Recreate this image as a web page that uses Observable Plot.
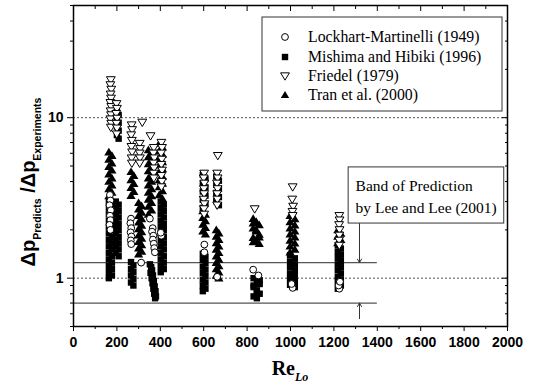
<!DOCTYPE html>
<html>
<head>
<meta charset="utf-8">
<script src="https://cdn.jsdelivr.net/npm/d3@7"></script>
<script src="https://cdn.jsdelivr.net/npm/@observablehq/plot@0.6"></script>
<style>
  html, body { margin: 0; padding: 0; background: #fff; }
  #chart { width: 536px; height: 390px; }
</style>
</head>
<body>
<div id="chart"></div>
<script>
// Pressure-drop ratio Δp_Predicts / Δp_Experiments against Re_Lo, four correlations.
const seriesNames = [
  "Lockhart-Martinelli (1949)",
  "Mishima and Hibiki (1996)",
  "Friedel (1979)",
  "Tran et al. (2000)"
];

// Open circles: [Re_Lo, ratio]
const lockhart = [
  [168,3.3],[170,3.05],[166,2.85],[172,2.65],[168,2.45],[170,2.3],[166,2.15],[170,2.0],
  [265,2.35],[262,2.2],[266,2.05],[263,1.93],[267,1.82],[264,1.72],[266,1.63],
  [312,1.25],
  [352,2.35],[365,2.05],[362,1.95],[368,1.84],[366,1.74],[370,1.64],[372,1.54],[375,1.45],[405,1.84],[402,1.92],
  [603,1.62],[603,1.45],
  [662,1.02],
  [828,1.13],[852,1.04],
  [1010,0.87],[1005,0.92],
  [1225,0.86],[1222,0.9],[1228,0.95]
];

// Open down-triangles: [Re_Lo, ratio]
const friedel = [
  [172,17.2],[170,16],[174,15],[171,14],[173,13.2],[170,12.4],[174,11.7],[171,11],[173,10.4],[170,9.8],[174,9.2],[172,8.7],
  [198,12.2],[200,11.4],[197,10.6],[201,9.9],[198,9.2],[200,8.6],[199,7.9],
  [268,9.0],[270,8.4],[266,7.8],[269,7.2],[267,6.6],[270,6.1],[268,5.6],[269,5.2],
  [305,6.9],[307,6.4],[305,6.0],[306,5.6],[305,5.2],
  [317,9.35],[355,7.7],
  [370,6.5],[368,6.0],[372,5.6],[369,5.2],[371,4.85],[369,4.5],[370,4.2],
  [405,7.0],[408,6.5],[404,6.0],[407,5.5],[405,5.1],[408,4.7],[405,4.35],[407,4.0],[405,3.7],
  [602,4.5],[600,4.2],[603,3.9],[601,3.6],[602,3.35],[600,3.1],[603,2.9],[601,2.7],[602,2.5],
  [665,5.8],[662,4.5],[664,4.2],[661,3.9],[664,3.6],[662,3.35],[663,3.1],[662,2.85],
  [835,2.7],
  [1010,3.7],[1008,3.1],[1012,2.8],[1009,2.6],[1010,2.45],
  [1225,2.45],[1226,2.3],[1224,2.15],[1226,2.0],[1225,1.85],[1224,1.72],[1225,1.6]
];

// Filled squares, one entry per measured column: [[Re_Lo positions], [ratios]]
const mishimaColumns = [
  [[163,177],[3.0,2.87,2.74,2.62,2.5,2.39,2.28,2.18,2.08,1.99,1.9,1.81,1.73,1.65,1.58,1.51,1.44,1.37,1.31,1.25,1.19,1.14,1.09,1.04,1.0]],
  [[195,208],[3.0,2.87,2.74,2.62,2.5,2.39,2.28,2.18,2.08,1.99,1.9,1.81,1.73,1.65,1.58,1.51,1.44,1.37]],
  [[200,208],[11,10.4,9.8,9.3,8.8,8.3,7.8,7.4]],
  [[265,276],[1.26,1.2,1.14,1.09,1.04,0.99,0.94,0.9]],
  [[402,416],[3.0,2.87,2.74,2.62,2.5,2.39,2.28,2.18,2.08,1.99,1.9,1.81,1.73,1.65,1.58,1.51,1.44,1.37,1.31,1.25,1.19,1.14,1.09]],
  [[352,358,362,355,366,360,370,364,374,368,378,372,380,376],[1.22,1.17,1.12,1.08,1.04,1.0,0.96,0.93,0.89,0.86,0.83,0.8,0.77,0.75]],
  [[596,608],[4.4,4.15,3.9,3.68,3.47,3.27,3.08,2.9,2.74]],
  [[596,608],[1.42,1.36,1.3,1.24,1.18,1.13,1.08,1.03,0.98,0.94,0.9,0.86,0.83]],
  [[658,670],[4.3,4.05,3.82,3.6,3.4,3.2,3.02,2.85]],
  [[830,845,858],[1.0,0.96,0.92,0.88,0.84,0.8,0.77,0.75,0.97,0.9,0.82]],
  [[998,1020],[1.39,1.33,1.27,1.22,1.17,1.12,1.07,1.03,0.99,0.95,0.91,0.88]],
  [[1218,1232],[1.6,1.53,1.46,1.4,1.34,1.28,1.22,1.17,1.12,1.07,1.02,0.98,0.94,0.9,0.86]]
];

// Filled up-triangles, same layout
const tranColumns = [
  [[163,177],[6.1,5.8,5.5,5.2,4.95,4.7,4.45,4.2,4.0,3.8,3.6,3.42,3.25,3.1]],
  [[265,278],[4.6,4.35,4.1,3.88,3.66,3.46,3.27]],
  [[300,314],[2.95,2.82,2.69,2.57,2.45,2.34,2.23,2.13,2.03,1.94,1.85,1.77,1.69,1.61,1.54,1.47,1.41]],
  [[345,360],[6.3,6.0,5.7,5.4,5.15,4.9,4.65,4.4,4.2,4.0,3.8,3.6,3.42,3.25,3.1,2.95,2.8,2.65,2.5]],
  [[395,410],[6.9,6.55,6.2,5.9,5.6,5.3,5.05,4.8,4.55,4.3,4.1,3.9,3.7,3.5,3.3,3.13]],
  [[596,608],[2.62,2.5,2.38,2.27,2.16,2.06,1.96,1.88]],
  [[658,670],[2.0,1.91,1.82,1.74,1.66,1.58,1.51,1.44,1.37,1.31,1.25,1.19,1.14,1.09,1.04,1.0]],
  [[828,842,856],[2.35,2.25,2.15,2.05,1.96,1.87,1.79,1.71,1.64,2.2,2.0,1.8,1.68]],
  [[998,1020],[2.45,2.34,2.24,2.14,2.05,1.96,1.88,1.8,1.72,1.65,1.58,1.51,1.45]],
  [[1218,1232],[2.0,1.9,1.82,1.74,1.66]]
];

// Axis ticks
const xMajorTicks = [0,200,400,600,800,1000,1200,1400,1600,1800,2000];
const xMinorTicks = [100,300,500,700,900,1100,1300,1500,1700,1900];
const yMajorTicks = [1, 10];
const yMinorTicks = [0.5,0.6,0.7,0.8,0.9,2,3,4,5,6,7,8,9,20,30,40,50];

// Reference lines and the band annotation
const gridLevels = [1, 10];
const bandLevels = [1.25, 0.7];
const bandRange = [0, 1400];
const bandNoteText = ["Band of Prediction", "by Lee and Lee (2001)"];
const bandNoteBox = {x1: 1268, x2: 1985, y1: 2.19, y2: 4.9};
const bandNoteTextX = 1300;
const bandNoteTextY = [3.77, 2.74];
const bandArrowX = 1318;
const bandArrows = [{from: 2.19, to: 1.25}, {from: 0.56, to: 0.7}];

const pts = a => a.map(([x, y]) => ({x, y}));
const fromColumns = cols => cols.flatMap(([xs, ys]) => ys.map((y, i) => ({x: xs[i % xs.length], y})));

// Marker shapes (size is π·r², as Plot passes it)
const triangleDown = {
  draw(ctx, size) {
    const r = Math.sqrt(size / Math.PI);
    ctx.moveTo(-r, -r * 0.72);
    ctx.lineTo(r, -r * 0.72);
    ctx.lineTo(0, r * 0.95);
    ctx.closePath();
  }
};
const triangleUp = {
  draw(ctx, size) {
    const r = Math.sqrt(size / Math.PI);
    ctx.moveTo(-r, r * 0.72);
    ctx.lineTo(r, r * 0.72);
    ctx.lineTo(0, -r * 0.95);
    ctx.closePath();
  }
};
const squareSym = {
  draw(ctx, size) {
    const r = Math.sqrt(size / Math.PI);
    ctx.rect(-r, -r, 2 * r, 2 * r);
  }
};
const circleSym = {
  draw(ctx, size) {
    const r = Math.sqrt(size / Math.PI);
    ctx.moveTo(r, 0);
    ctx.arc(0, 0, r, 0, 2 * Math.PI);
  }
};

const markerStyles = [
  {symbol: circleSym, r: 3.4, fill: "white", stroke: "black"},
  {symbol: squareSym, r: 3.2, fill: "black", stroke: "none"},
  {symbol: triangleDown, r: 4.4, fill: "white", stroke: "black"},
  {symbol: triangleUp, r: 4.6, fill: "black", stroke: "none"}
];

const tickFont = {fontSize: 14, fontWeight: "bold", fontFamily: "Liberation Sans, Arial, sans-serif"};
const noText = () => "";

const chart = Plot.plot({
  width: 536,
  height: 390,
  marginLeft: 73,
  marginRight: 29,
  marginTop: 5,
  marginBottom: 64,
  style: {background: "white", color: "black", overflow: "visible"},
  x: {domain: [0, 2000]},
  y: {type: "log", domain: [0.5, 50]},
  marks: [
    Plot.ruleY(gridLevels, {stroke: "#555", strokeDasharray: "2,2", strokeWidth: 1}),
    Plot.ruleY(bandLevels, {x1: () => bandRange[0], x2: () => bandRange[1], stroke: "#555", strokeWidth: 1.2}),
    Plot.dot(fromColumns(mishimaColumns), {x: "x", y: "y", ...markerStyles[1]}),
    Plot.dot(fromColumns(tranColumns), {x: "x", y: "y", ...markerStyles[3]}),
    Plot.dot(pts(lockhart), {x: "x", y: "y", ...markerStyles[0], strokeWidth: 1}),
    Plot.dot(pts(friedel), {x: "x", y: "y", ...markerStyles[2], strokeWidth: 1}),
    Plot.rect([bandNoteBox], {x1: "x1", x2: "x2", y1: "y1", y2: "y2", fill: "white", stroke: "#333", strokeWidth: 1}),
    Plot.text(bandNoteText, {
      x: () => bandNoteTextX, y: (d, i) => bandNoteTextY[i], text: d => d,
      textAnchor: "start", lineAnchor: "middle", fontSize: 15.5,
      fontFamily: "Liberation Serif, Times New Roman, serif", fill: "black"
    }),
    Plot.arrow(bandArrows, {
      x1: () => bandArrowX, x2: () => bandArrowX, y1: "from", y2: "to",
      stroke: "#333", strokeWidth: 1, headLength: 6, bend: 0
    }),
    Plot.axisX({ticks: xMajorTicks, tickSize: 5, tickPadding: 6, tickFormat: d => String(d), label: null, ...tickFont}),
    Plot.axisX({ticks: xMinorTicks, tickSize: 3, tickFormat: noText, label: null}),
    Plot.axisX({anchor: "top", ticks: xMajorTicks, tickSize: 5, dy: 5, tickFormat: noText, label: null}),
    Plot.axisX({anchor: "top", ticks: xMinorTicks, tickSize: 3, dy: 3, tickFormat: noText, label: null}),
    Plot.axisY({ticks: yMajorTicks, tickSize: 6, tickPadding: 4, tickFormat: d => String(d), label: null, ...tickFont}),
    Plot.axisY({ticks: yMinorTicks, tickSize: 3, tickFormat: noText, label: null}),
    Plot.axisY({anchor: "right", ticks: yMajorTicks, tickSize: 6, dx: -6, tickFormat: noText, label: null}),
    Plot.axisY({anchor: "right", ticks: yMinorTicks, tickSize: 3, dx: -3, tickFormat: noText, label: null}),
    Plot.frame({stroke: "black", strokeWidth: 1.5})
  ]
});

document.getElementById("chart").appendChild(chart);

const svg = d3.select(chart);

// Legend box inside the plot area
const legend = svg.append("g").attr("class", "legend").attr("text-anchor", "start");
legend.append("rect")
  .attr("x", 262).attr("y", 17).attr("width", 240).attr("height", 94)
  .attr("fill", "white").attr("stroke", "#333").attr("stroke-width", 1);
const rowY = [37, 57, 76, 95];
seriesNames.forEach((name, i) => {
  const m = markerStyles[i];
  const legendR = i === 3 ? 4.2 : m.r;
  legend.append("path")
    .attr("transform", `translate(285,${rowY[i]})`)
    .attr("d", d3.symbol().type(m.symbol).size(Math.PI * legendR * legendR)())
    .attr("fill", m.fill).attr("stroke", m.stroke).attr("stroke-width", 1);
  legend.append("text")
    .attr("x", 308).attr("y", rowY[i] + 5)
    .attr("text-anchor", "start")
    .attr("font-family", "Liberation Serif, Times New Roman, serif")
    .attr("font-size", 15.8).attr("fill", "black")
    .text(name);
});

// Y axis title: Δp_Predicts / Δp_Experiments
const yTitle = svg.append("text")
  .attr("transform", "translate(35,182) rotate(-90)")
  .attr("text-anchor", "middle")
  .attr("font-family", "Liberation Sans, Arial, sans-serif")
  .attr("font-weight", "bold")
  .attr("fill", "black");
yTitle.append("tspan").attr("font-size", 20).text("Δp");
yTitle.append("tspan").attr("font-size", 10.5).attr("dy", 6).text("Predicts");
yTitle.append("tspan").attr("font-size", 20).attr("dy", -6).text(" /Δp");
yTitle.append("tspan").attr("font-size", 10.5).attr("dy", 6).text("Experiments");

// X axis title: Re_Lo
const xTitle = svg.append("text")
  .attr("x", 290).attr("y", 375)
  .attr("text-anchor", "middle")
  .attr("font-family", "Liberation Serif, Times New Roman, serif")
  .attr("font-weight", "bold")
  .attr("fill", "black");
xTitle.append("tspan").attr("font-size", 20).text("Re");
xTitle.append("tspan").attr("font-size", 12).attr("font-style", "italic").attr("dy", 6).text("Lo");
</script>
</body>
</html>
